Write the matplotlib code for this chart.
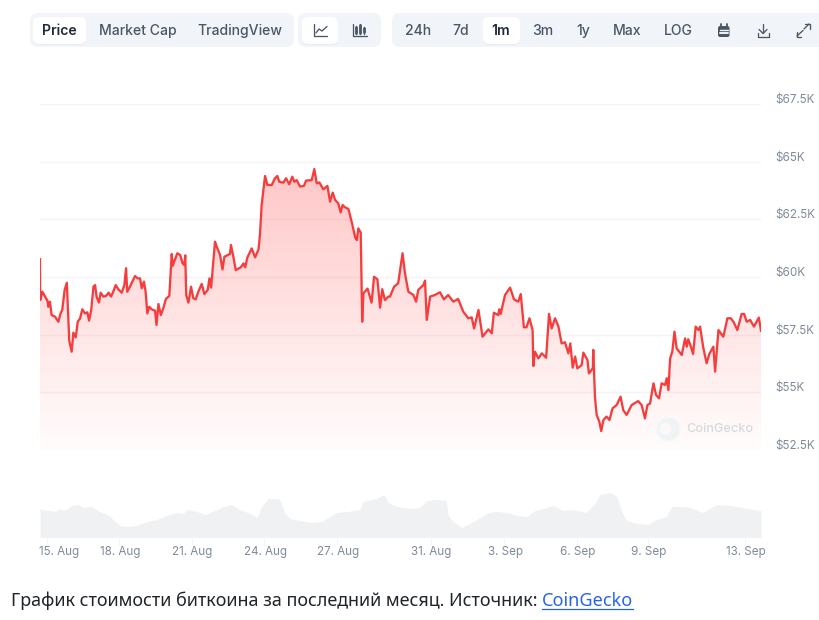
import numpy as np
import matplotlib
matplotlib.use("Agg")
import matplotlib.pyplot as plt
from matplotlib.patches import FancyBboxPatch, Circle, Polygon
from matplotlib.transforms import ScaledTranslation

# ---- data (day = days after 15 Aug, price in $K) ----
price_days = [-0.31,-0.30,-0.21,-0.10,0,.03,.10,.17,.31,.45,.54,.61,.71,.80,.84,.90,1.0,1.07,1.17,1.25,1.35,1.44,1.55,1.65,1.72,1.81,1.90,1.97,2.03,2.13,2.20,2.31,2.42,2.53,2.63,2.72,2.82,2.93,3.07,3.18,3.25,3.30,3.41,3.51,3.62,3.73,3.83,3.90,3.99,4.06,4.13,4.21,4.31,4.45,4.51,4.59,4.69,4.79,4.90,5.04,5.14,5.18,5.29,5.37,5.49,5.59,5.66,5.70,5.74,5.83,5.94,6.03,6.13,6.24,6.38,6.49,6.63,6.70,6.77,6.93,7.0,7.14,7.24,7.32,7.55,7.59,7.69,7.79,8.0,8.11,8.18,8.27,8.45,8.59,8.73,8.79,8.86,8.93,9.0,9.10,9.28,9.41,9.51,9.59,9.76,9.87,10.0,10.13,10.21,10.31,10.45,10.61,10.70,10.93,11.04,11.14,11.25,11.41,11.58,11.69,11.80,11.90,12.03,12.13,12.21,12.31,12.45,12.59,12.73,12.80,12.86,12.96,13.02,13.07,13.24,13.41,13.51,13.65,13.76,13.85,13.96,14.10,14.17,14.34,14.51,14.69,14.79,14.93,15.14,15.25,15.34,15.55,15.62,15.69,15.83,16.03,16.24,16.40,16.58,16.79,16.99,17.20,17.41,17.55,17.65,17.83,18.0,18.24,18.38,18.47,18.65,18.69,18.75,18.93,19.14,19.30,19.48,19.58,19.71,19.82,19.94,20.07,20.10,20.17,20.31,20.45,20.63,20.75,20.86,21.0,21.14,21.27,21.41,21.55,21.63,21.73,21.83,21.92,22.10,22.17,22.34,22.40,22.56,22.58,22.65,22.72,22.83,22.91,23.0,23.13,23.25,23.38,23.55,23.71,23.82,23.96,24.17,24.44,24.58,24.72,24.82,24.93,25.07,25.18,25.30,25.41,25.55,25.62,25.69,25.76,25.85,25.94,26.03,26.24,26.38,26.45,26.51,26.62,26.71,26.82,26.93,27.0,27.13,27.27,27.38,27.55,27.62,27.76,27.96,28.13,28.27,28.38,28.54,28.72,28.82,28.93,29.07,29.23,29.43,29.52]
price_k = [60.77,59.0,59.36,59.15,58.97,58.71,58.93,58.35,58.28,58.06,58.42,58.57,59.44,59.75,58.71,57.24,56.76,57.59,57.38,58.06,58.21,58.6,58.42,58.47,58.11,58.57,59.58,59.65,59.15,58.89,59.32,59.15,59.18,59.32,59.15,59.36,59.65,59.47,59.32,59.65,60.38,59.36,59.58,59.8,60.04,59.94,59.94,59.51,59.8,59.36,58.42,58.71,58.6,58.54,57.92,58.83,58.35,58.64,59.05,59.18,61.0,60.49,60.81,61.03,60.95,60.59,60.52,60.94,59.22,58.89,59.58,59.08,59.03,59.36,59.7,59.26,59.44,59.94,59.54,61.53,61.32,60.95,60.33,60.88,61.0,61.39,60.88,60.3,60.42,60.59,60.42,60.85,61.24,60.85,61.2,61.82,63.12,63.74,64.38,63.99,63.99,64.28,64.38,64.13,64.09,64.28,64.02,64.35,64.13,64.2,63.92,63.95,64.18,64.2,64.68,64.06,64.1,63.8,63.95,63.27,63.66,63.34,63.19,62.8,63.12,63.02,62.95,62.37,61.72,61.6,62.11,61.92,58.06,59.29,59.5,58.89,60.01,59.9,58.67,59.47,59.0,59.15,59.15,59.58,59.73,61.03,60.16,59.36,59.22,58.93,59.44,59.65,59.84,58.14,59.15,59.22,59.34,59.03,59.22,58.93,59.05,58.5,58.21,58.25,57.77,58.57,57.41,57.73,57.56,58.45,58.35,58.6,58.4,59.22,59.54,59.03,58.93,59.26,57.82,57.82,58.21,57.7,56.14,56.76,56.47,56.69,56.5,58.4,57.77,58.21,57.85,57.12,57.17,56.69,57.12,56.07,56.55,56.04,56.18,56.72,56.4,55.82,56.04,56.84,54.81,54.02,53.73,53.32,53.8,53.95,53.8,54.31,54.45,54.81,54.23,54.02,54.45,54.62,54.45,53.87,54.45,54.52,55.39,54.88,54.74,55.39,55.32,55.61,55.1,56.47,56.76,57.63,56.91,56.62,57.34,56.98,57.3,56.98,56.66,57.85,57.7,57.85,56.95,56.26,56.66,56.98,55.9,57.7,57.41,58.21,58.21,58.06,57.7,58.4,58.4,58.06,58.14,57.85,58.24,57.67]
volume_days = [-0.31,-.1,.1,.31,.52,.72,1.0,1.27,1.48,1.79,2.09,2.38,2.61,2.79,3.0,3.28,3.69,4.10,4.52,4.93,5.35,5.61,5.82,6.17,6.52,6.93,7.27,7.62,7.96,8.38,8.67,8.86,9.13,9.54,9.62,9.83,10.03,10.45,10.86,11.34,11.69,11.97,12.44,12.93,13.06,13.47,13.68,13.92,14.09,14.45,15.0,15.41,15.69,16.1,16.49,16.58,16.78,17.14,17.48,17.9,18.24,18.58,19.0,19.41,19.83,20.17,20.5,20.92,21.33,21.74,22.24,22.36,22.65,22.86,23.27,23.56,23.76,23.96,24.38,24.85,25.2,25.6,25.82,26.38,26.71,27.12,27.69,28.24,28.72,29.2,29.52]
volume = [29,27,27,26,29,27,32,33,30,31,27,24,21,16,12,11,12,16,18,22,25,24,28,26,23,27,31,33,28,24,20,31,39,39,37,24,19,17,15,16,21,25,26,28,36,38,40,43,35,31,29,30,37,38,37,22,16,10,14,20,25,26,25,22,21,27,29,32,27,28,25,27,34,43,45,41,26,17,14,13,18,21,31,31,29,25,33,32,30,28,27]
y_ticks = [52.5,55,57.5,60,62.5,65,67.5]
y_labels = ["$52.5K","$55K","$57.5K","$60K","$62.5K","$65K","$67.5K"]
x_ticks = [-0.03,2.95,5.96,8.96,11.97,15.85,18.9,21.9,24.85,28.85]
x_labels = ["15. Aug","18. Aug","21. Aug","24. Aug","27. Aug","31. Aug","3. Sep","6. Sep","9. Sep","13. Sep"]

W, H = 819, 620
UI = ["Inter", "DejaVu Sans"]
fig = plt.figure(figsize=(W/100, H/100), dpi=100, facecolor="white")

def rect(l, t, r, b):
    return [l/W, 1-b/H, (r-l)/W, (b-t)/H]

def shift(dx, dy):
    return ScaledTranslation(dx/100, dy/100, fig.dpi_scale_trans)

# ---- price chart ----
ax = fig.add_axes(rect(40, 104, 761, 450))
ax.set_xlim(-0.31, 29.52)
ax.set_ylim(52.5, 67.5)
for s in ax.spines.values():
    s.set_visible(False)
ax.set_yticks(y_ticks, y_labels)
ax.yaxis.tick_right()
ax.tick_params(axis="y", length=0, pad=10.6, labelsize=8.4, labelcolor="#7f8b99")
for t in ax.get_yticklabels():
    t.set_fontfamily(UI)
    t.set_va("center")
    t.set_transform(t.get_transform() + shift(0, 4))
ax.set_xticks([])
ax.grid(axis="y", color="#f3f4f5", lw=1)
ax.set_axisbelow(True)

grad = np.zeros((256, 1, 4))
grad[..., 0] = 1.0; grad[..., 1] = 0.22; grad[..., 2] = 0.22
grad[..., 3] = np.linspace(0.29, 0.012, 256)[:, None]
im = ax.imshow(grad, extent=[-0.31, 29.52, 52.5, 65.0], aspect="auto", zorder=1.5, interpolation="bilinear")
poly = Polygon(list(zip(price_days, price_k)) + [(29.52, 52.5), (-0.31, 52.5)], closed=True,
               transform=ax.transData, fc="none", ec="none")
ax.add_patch(poly)
im.set_clip_path(poly)
ax.set_xlim(-0.31, 29.52); ax.set_ylim(52.5, 67.5)
ax.plot(price_days, price_k, color="#f63d3d", lw=1.65, zorder=3, solid_joinstyle="round")

# ---- volume chart ----
ax2 = fig.add_axes(rect(40, 490, 761, 537.5))
ax2.set_xlim(-0.31, 29.52)
ax2.set_ylim(0, 47.5)
ax2.fill_between(volume_days, volume, 0, color="#eff1f3", lw=0)
for s in ax2.spines.values():
    s.set_visible(False)
ax2.set_yticks([])
ax2.set_xticks(x_ticks, x_labels)
ax2.tick_params(axis="x", length=5, width=.7, color="#f3f4f5", pad=1.4, labelsize=8.4, labelcolor="#7f8b99")
labs = ax2.get_xticklabels()
for t in labs:
    t.set_fontfamily(UI)
    t.set_transform(t.get_transform() + shift(1, 0))
labs[0].set_ha("left")
labs[0].set_transform(labs[0].get_transform() + shift(-8.3, 0))

# ---- page chrome overlay ----
ov = fig.add_axes([0, 0, 1, 1], zorder=5)
ov.set_xlim(0, W); ov.set_ylim(H, 0); ov.axis("off"); ov.patch.set_alpha(0)

def pill(l, t, r, b, fc, rad=7, shadow=False):
    if shadow:
        ov.add_patch(FancyBboxPatch((l, t+1), r-l, b-t, boxstyle=f"round,pad=0,rounding_size={rad}",
                                    fc="#e3e7ec", ec="none", alpha=.7))
    ov.add_patch(FancyBboxPatch((l, t), r-l, b-t, boxstyle=f"round,pad=0,rounding_size={rad}",
                                fc=fc, ec="none"))

GROUP = "#f1f5f9"
pill(30, 13, 294, 47, GROUP, 8); pill(298, 13, 381, 47, GROUP, 8); pill(392, 13, 830, 47, GROUP, 8)
pill(33, 17, 86, 44, "white", 6, True); pill(302, 17, 338, 44, "white", 6, True); pill(483, 17, 520, 44, "white", 6, True)

def ui(x, s, c="#4b5767", w="medium"):
    ov.text(x, 31, s, ha="center", va="center", fontsize=10.1, color=c, family=UI, fontweight=w)

ui(59.5, "Price", "#1f2937", "semibold"); ui(137.5, "Market Cap"); ui(239.5, "TradingView")
for x, s in [(418, "24h"), (461, "7d"), (543, "3m"), (583, "1y"), (627, "Max"), (678, "LOG")]:
    ui(x, s)
ui(501, "1m", "#1f2937", "semibold")

ic = "#4b5767"
def ln(xs, ys, c=ic, lw=.95):
    ov.plot(xs, ys, color=c, lw=lw, solid_capstyle="round", solid_joinstyle="round")

# line chart icon
ln([314, 314, 327], [24, 36, 36]); ln([316, 319, 322, 327], [33, 29, 31, 26.5])
# candle icon
ln([353, 353, 367], [24, 36, 36])
for x, a, b, c, d in [(356, 26, 34, 27, 33), (360, 24, 34, 25, 33), (364, 27, 34, 28, 32)]:
    ln([x, x], [a, b]); ln([x, x], [c, d], lw=2)
# calendar icon
pill(718, 26, 729.5, 37, ic, 2)
ln([720.5, 720.5], [24, 27], lw=1.3); ln([727, 727], [24, 27], lw=1.3)
ln([720, 727.5], [29.5, 29.5], c=GROUP, lw=1); ln([720, 727.5], [33, 33], c=GROUP, lw=1.4)
# download icon
ln([763, 763], [24, 33]); ln([759, 763, 767], [29.5, 33.5, 29.5]); ln([757.5, 757.5, 769, 769], [33, 36.5, 36.5, 33])
# expand icon
ln([797, 803], [36, 30.5]); ln([797, 797, 801], [32, 36.5, 36.5])
ln([809, 804], [24, 29]); ln([805, 809.5, 809.5], [24, 24, 28.5])

# watermark
ov.add_patch(Circle((668.5, 429), 12, fc="#f1f2f3", ec="#f7f8f8", lw=1.5))
ov.add_patch(Circle((665.5, 429), 6, fc="#f9f9f9", ec="none"))
ov.text(686, 428.5, "CoinGecko", ha="left", va="center", fontsize=9.15, color="#d6dadc", family=UI, fontweight="medium")

# caption
cap = ov.text(11, 601, "График стоимости биткоина за последний месяц. Источник: ", ha="left", va="center",
              fontsize=12.95, color="#212529", family=["Noto Sans", "DejaVu Sans"])
x0 = 542
link = ov.text(x0, 601, "CoinGecko", ha="left", va="center", fontsize=13, color="#2563eb", family=["Noto Sans", "DejaVu Sans"])
fig.canvas.draw()
lb = link.get_window_extent()
ov.plot([x0, lb.x1], [609, 609], color="#2563eb", lw=.9)
ov.set_xlim(0, W); ov.set_ylim(H, 0)

fig.savefig("out.png", dpi=100, facecolor="white")
